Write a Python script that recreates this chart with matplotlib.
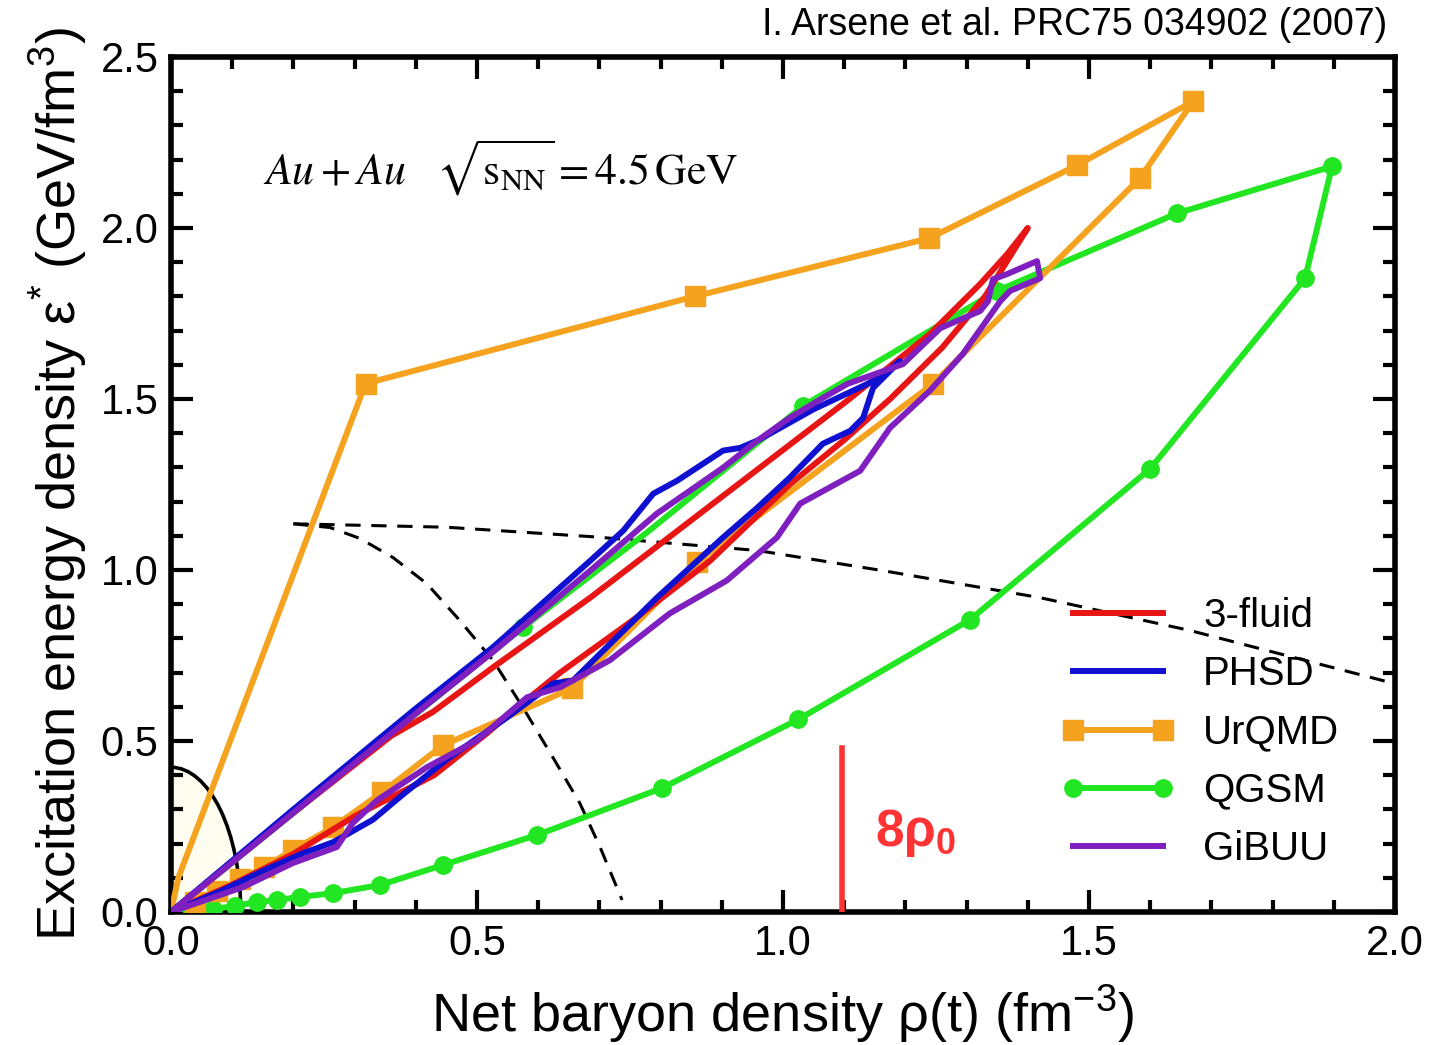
import numpy as np
import matplotlib
matplotlib.use('Agg')
import matplotlib.pyplot as plt
from matplotlib.patches import Ellipse

plt.rcParams['font.family'] = ['Liberation Sans', 'DejaVu Sans']
plt.rcParams['mathtext.fontset'] = 'custom'
plt.rcParams['mathtext.rm'] = 'Liberation Sans'
plt.rcParams['mathtext.it'] = 'Liberation Sans:italic'
plt.rcParams['mathtext.bf'] = 'Liberation Sans:bold'

# trajectories in the (rho, eps*) plane, one closed path per model
fluid3_x = [0.0, 0.2, 0.36, 0.428, 0.526, 0.685, 1.105, 1.24, 1.322, 1.366, 1.40,
            1.33, 1.26, 1.175, 1.10, 1.011, 0.881, 0.76, 0.636, 0.554, 0.516, 0.43, 0.3, 0.2, 0.1, 0.0]
fluid3_y = [0.0, 0.29, 0.515, 0.585, 0.715, 0.919, 1.495, 1.69, 1.836, 1.923, 2.0,
            1.80, 1.65, 1.50, 1.38, 1.25, 1.027, 0.86, 0.70, 0.581, 0.522, 0.40, 0.28, 0.17, 0.08, 0.0]

phsd_x = [0.0, 0.2, 0.4, 0.526, 0.685, 0.739, 0.788, 0.827, 0.902, 0.930, 0.96, 1.05, 1.158, 1.191,
          1.147, 1.131, 1.110, 1.065, 1.011, 0.958, 0.902, 0.848, 0.794, 0.657, 0.624, 0.55, 0.45,
          0.38, 0.33, 0.265, 0.216, 0.15, 0.08, 0.0]
phsd_y = [0.0, 0.30, 0.595, 0.774, 1.027, 1.115, 1.223, 1.261, 1.349, 1.357, 1.38, 1.47, 1.561, 1.611,
          1.532, 1.445, 1.407, 1.369, 1.270, 1.182, 1.095, 1.007, 0.919, 0.677, 0.668, 0.57, 0.445,
          0.345, 0.27, 0.204, 0.172, 0.12, 0.06, 0.0]

urqmd_x = [0.0, 0.012, 0.318, 0.856, 1.239, 1.480, 1.670, 1.583, 1.245, 0.859, 0.655, 0.444,
           0.345, 0.265, 0.199, 0.152, 0.113, 0.075, 0.04, 0.0]
urqmd_y = [0.0, 0.10, 1.545, 1.800, 1.970, 2.183, 2.370, 2.145, 1.544, 1.022, 0.654, 0.487,
           0.350, 0.248, 0.181, 0.131, 0.095, 0.062, 0.03, 0.0]

qgsm_x = [0.0, 0.575, 0.778, 1.033, 1.350, 1.644, 1.897, 1.853, 1.600, 1.306, 1.025, 0.802,
          0.598, 0.444, 0.342, 0.265, 0.211, 0.173, 0.141, 0.105, 0.069, 0.035, 0.0]
qgsm_y = [0.0, 0.832, 1.11, 1.480, 1.816, 2.043, 2.180, 1.853, 1.296, 0.855, 0.563, 0.362,
          0.225, 0.137, 0.079, 0.055, 0.044, 0.035, 0.029, 0.018, 0.008, 0.003, 0.0]

gibuu_x = [0.0, 0.2, 0.4, 0.526, 0.685, 0.794, 0.902, 0.958, 1.011, 1.065, 1.105, 1.196, 1.257,
           1.284, 1.322, 1.335, 1.343, 1.366, 1.415, 1.42, 1.371, 1.355, 1.294, 1.240, 1.175,
           1.126, 1.028, 0.990, 0.908, 0.815, 0.717, 0.636, 0.582, 0.500, 0.418, 0.337, 0.297,
           0.271, 0.199, 0.118, 0.0]
gibuu_y = [0.0, 0.29, 0.58, 0.76, 0.998, 1.165, 1.299, 1.378, 1.445, 1.503, 1.544, 1.602, 1.707,
           1.728, 1.757, 1.786, 1.850, 1.865, 1.903, 1.853, 1.816, 1.786, 1.632, 1.524, 1.416,
           1.290, 1.194, 1.095, 0.969, 0.873, 0.736, 0.657, 0.628, 0.502, 0.423, 0.327, 0.260,
           0.190, 0.143, 0.073, 0.0]

# phase boundary curves (dashed)
bound1_x = [0.2, 0.45, 0.69, 0.958, 1.163, 1.42, 1.665, 1.99]
bound1_y = [1.135, 1.125, 1.097, 1.057, 0.998, 0.919, 0.823, 0.672]
bound2_x = [0.2, 0.26, 0.309, 0.363, 0.418, 0.472, 0.526, 0.575, 0.624, 0.668, 0.701, 0.737]
bound2_y = [1.135, 1.124, 1.092, 1.036, 0.960, 0.852, 0.736, 0.598, 0.452, 0.318, 0.190, 0.035]

rho_8 = 1.096
rho_8_top = 0.48

fig = plt.figure(figsize=(14.32, 10.45), dpi=100)
ax = fig.add_axes([0.1194, 0.1273, 0.8548, 0.8182])

# nuclear ground-state region
ax.add_patch(Ellipse((0, 0), 2 * 0.114, 2 * 0.423, facecolor='#fffdf0',
                     edgecolor='black', lw=2.6, zorder=1))

ax.plot(bound1_x, bound1_y, color='black', ls=(0, (5, 3.5)), lw=2.2, zorder=2)
ax.plot(bound2_x, bound2_y, color='black', ls=(0, (5, 3.5)), lw=2.2, zorder=2)

lw = 4.3
ax.plot(qgsm_x, qgsm_y, color='#22e622', lw=lw, marker='o', ms=12.5,
        markevery=[i for i in range(len(qgsm_x)) if i not in (0, 2, len(qgsm_x) - 1)],
        label='QGSM', zorder=3)
ax.plot(urqmd_x, urqmd_y, color='#f5a31e', lw=lw, marker='s', ms=14,
        markevery=[i for i in range(len(urqmd_x)) if i not in (0, 1, len(urqmd_x) - 1)],
        label='UrQMD', zorder=4)
ax.plot(fluid3_x, fluid3_y, color='#e81515', lw=lw, label='3-fluid', zorder=5)
ax.plot(phsd_x, phsd_y, color='#1010d0', lw=lw, label='PHSD', zorder=5)
ax.plot(gibuu_x, gibuu_y, color='#7f1fbf', lw=lw, label='GiBUU', zorder=6)

ax.plot([rho_8, rho_8], [0, rho_8_top], color='#ff3333', lw=4, zorder=7)
ax.text(1.15, 0.23, r'8ρ$_{\mathbf{0}}$', color='#ff3333', fontsize=37,
        fontweight='bold', va='center', ha='left')

ax.text(0.15, 2.175, r'$Au + Au\quad\sqrt{\mathrm{s}_{\mathrm{NN}}} = 4.5\,\mathrm{GeV}$',
        fontsize=31.5, va='center', ha='left', math_fontfamily='stix')
fig.text(0.969, 0.976, 'I. Arsene et al. PRC75 034902 (2007)', fontsize=27,
         ha='right', va='center')

ax.set_xlim(0, 2.0)
ax.set_ylim(0, 2.5)
ax.set_xticks(np.arange(0, 2.01, 0.5))
ax.set_yticks(np.arange(0, 2.51, 0.5))
ax.set_xticks(np.arange(0, 2.01, 0.1), minor=True)
ax.set_yticks(np.arange(0, 2.51, 0.1), minor=True)
ax.xaxis.set_major_formatter(matplotlib.ticker.FormatStrFormatter('%.1f'))
ax.yaxis.set_major_formatter(matplotlib.ticker.FormatStrFormatter('%.1f'))
ax.tick_params(which='both', direction='in', top=True, right=True, width=3,
               labelsize=30)
ax.tick_params(which='major', length=16, pad=9)
ax.tick_params(which='minor', length=8.5)
for s in ax.spines.values():
    s.set_linewidth(4)

ax.set_xlabel(r'Net baryon density ρ(t) (fm$^{-3}$)', fontsize=39, labelpad=13)
ax.set_ylabel(r'Excitation energy density ε$^{*}$ (GeV/fm$^{3}$)', fontsize=39, labelpad=8)

handles, labels = ax.get_legend_handles_labels()
order = ['3-fluid', 'PHSD', 'UrQMD', 'QGSM', 'GiBUU']
hmap = dict(zip(labels, handles))
ax.legend([hmap[k] for k in order], order, loc='upper left',
          bbox_to_anchor=(0.727, 0.368), frameon=False, fontsize=29,
          handlelength=2.83, handletextpad=0.7, labelspacing=0.5,
          borderpad=0, borderaxespad=0, numpoints=2)

plt.savefig('out.png', dpi=100)
